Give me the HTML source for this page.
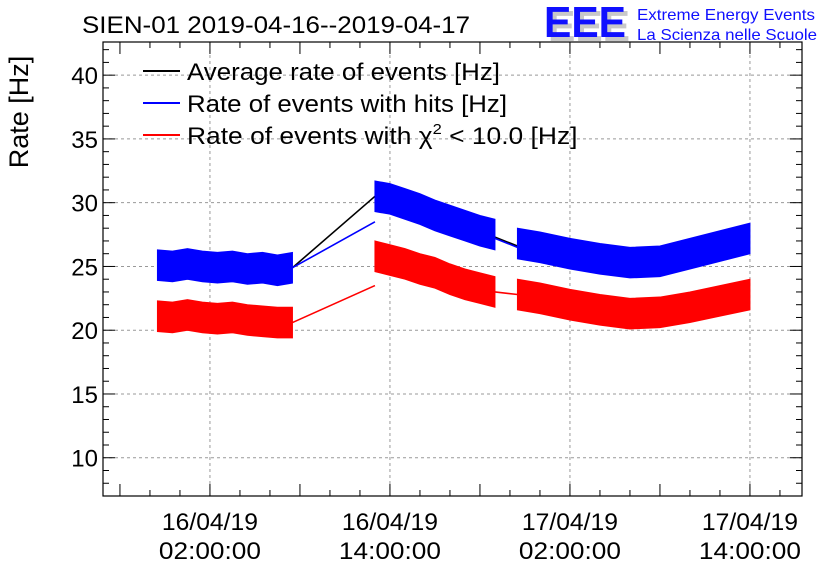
<!DOCTYPE html>
<html><head><meta charset="utf-8"><style>
body{margin:0;background:#fff}
svg{display:block;font-family:"Liberation Sans",sans-serif}
</style></head><body>
<svg id="chart" width="836" height="572" viewBox="0 0 836 572">
<text x="82" y="33" font-size="24" textLength="388" lengthAdjust="spacingAndGlyphs">SIEN-01 2019-04-16--2019-04-17</text>
<g>
<text x="548" y="41" font-size="44" font-weight="bold" fill="#c8c8c8" textLength="82" lengthAdjust="spacingAndGlyphs">EEE</text>
<text x="544" y="37" font-size="44" font-weight="bold" fill="#1010ff" textLength="82" lengthAdjust="spacingAndGlyphs">EEE</text>
<text x="637" y="20" font-size="16" fill="#1010ff" textLength="178" lengthAdjust="spacingAndGlyphs">Extreme Energy Events</text>
<text x="637" y="40" font-size="16" fill="#1010ff" textLength="180" lengthAdjust="spacingAndGlyphs">La Scienza nelle Scuole</text>
</g>
<text transform="translate(28,112) rotate(-90)" font-size="27" text-anchor="middle">Rate [Hz]</text>
<g id="grid"></g>
<g id="marks"></g>
<rect x="103" y="42" width="699" height="454" fill="none" stroke="#000" stroke-width="1.2"/>
<g id="axes"></g>
<g font-size="24">
<line x1="143" y1="71" x2="180" y2="71" stroke="#000" stroke-width="2"/>
<text x="187" y="80" textLength="313" lengthAdjust="spacingAndGlyphs">Average rate of events [Hz]</text>
<line x1="143" y1="103" x2="180" y2="103" stroke="#0000ff" stroke-width="2"/>
<text x="187" y="112" textLength="320" lengthAdjust="spacingAndGlyphs">Rate of events with hits [Hz]</text>
<line x1="143" y1="135" x2="180" y2="135" stroke="#ff0000" stroke-width="2"/>
<text x="187" y="144" transform="translate(187,0) scale(1.1,1) translate(-187,0)">Rate of events with χ<tspan dy="-10" font-size="15">2</tspan><tspan dy="10"> &lt; 10.0 [Hz]</tspan></text>
</g>
</svg>
<script>
// hours since 2019-04-16 00:00
const seg1Hours=[-1.5,-0.5,0.5,1.5,2.5,3.5,4.5,5.5,6.5,7.5];
const seg1Blue=[25.1,25.0,25.2,25.0,24.9,25.0,24.8,24.9,24.7,24.9];
const seg1Red=[21.1,21.0,21.2,21.0,20.9,21.0,20.8,20.7,20.6,20.6];
const seg2Hours=[13,14,15,16,17,18,19,20,21];
const seg2Blue=[30.5,30.3,29.9,29.5,29.0,28.6,28.2,27.8,27.5];
const seg2Red=[25.8,25.5,25.2,24.8,24.5,24.0,23.6,23.3,23.0];
const seg3Hours=[22.5,24,26,28,30,32,34,36,38];
const seg3Blue=[26.8,26.5,26.0,25.6,25.3,25.4,26.0,26.6,27.2];
const seg3Red=[22.8,22.5,22.0,21.6,21.3,21.4,21.8,22.3,22.8];
const noiseHalfWidth=1.2;
const gapBlue=[24.9,28.5];
const gapRed=[20.6,23.5];
const gapAverage=[24.9,30.5];
const yTicks=[10,15,20,25,30,35,40];
const xTickHours=[2,14,26,38];
const xTickDates=["16/04/19","16/04/19","17/04/19","17/04/19"];
const xTickTimes=["02:00:00","14:00:00","02:00:00","14:00:00"];

const X0=103,X1=802,Y0=496,Y1=42,HMIN=-5.13,HMAX=41.47,VMIN=7.0,VMAX=42.6;
const xs=h=>X0+(h-HMIN)/(HMAX-HMIN)*(X1-X0);
const ys=v=>Y0-(v-VMIN)/(VMAX-VMIN)*(Y0-Y1);
const NS="http://www.w3.org/2000/svg";
function mk(tag,attrs,parent){const e=document.createElementNS(NS,tag);for(const k in attrs)e.setAttribute(k,attrs[k]);parent.appendChild(e);return e;}
const grid=document.getElementById('grid'),marks=document.getElementById('marks'),axes=document.getElementById('axes');

yTicks.forEach(v=>{
  const g=mk('line',{x1:X0,x2:X1,y1:ys(v),y2:ys(v),stroke:'#999','stroke-dasharray':'3,3'},grid);
  
  
  const t=mk('text',{x:X0-5,y:ys(v)+9,'font-size':24,'text-anchor':'end'},axes);
  t.textContent=v;
  
  
});
for(let v=Math.ceil(VMIN);v<=VMAX;v++){
  const L=v%5===0?12:6;
  mk('line',{x1:X0,x2:X0+L,y1:ys(v),y2:ys(v),stroke:'#000'},axes);
  mk('line',{x1:X1,x2:X1-L,y1:ys(v),y2:ys(v),stroke:'#000'},axes);
}
xTickHours.forEach((h,i)=>{
  const g=mk('line',{x1:xs(h),x2:xs(h),y1:Y0,y2:Y1,stroke:'#999','stroke-dasharray':'3,3'},grid);
  
  
  const t1=mk('text',{x:xs(h)-48,y:530,'font-size':24,textLength:96,lengthAdjust:'spacingAndGlyphs'},axes);
  t1.textContent=xTickDates[i];
  
  
  const t2=mk('text',{x:xs(h)-51,y:559,'font-size':24,textLength:102,lengthAdjust:'spacingAndGlyphs'},axes);
  t2.textContent=xTickTimes[i];
  
  
});
for(let h=-4;h<=HMAX;h+=2){
  const L=(h-2)%6===0?12:6;
  mk('line',{x1:xs(h),x2:xs(h),y1:Y0,y2:Y0-L,stroke:'#000'},axes);
  mk('line',{x1:xs(h),x2:xs(h),y1:Y1,y2:Y1+L,stroke:'#000'},axes);
}

function line(pts,color,name){
  const p=mk('polyline',{points:pts.map(q=>xs(q[0])+','+ys(q[1])).join(' '),fill:'none',stroke:color,'stroke-width':1.6},marks);
  
  
}
function band(hours,vals,color,name){
  const up=hours.map((h,i)=>xs(h)+','+ys(vals[i]+noiseHalfWidth));
  const dn=hours.map((h,i)=>xs(h)+','+ys(vals[i]-noiseHalfWidth)).reverse();
  const p=mk('polygon',{points:up.concat(dn).join(' '),fill:color,stroke:color,'stroke-width':1},marks);
  
  
}
line([[seg1Hours[9],gapAverage[0]],[seg2Hours[0],gapAverage[1]]],'#000','average-gap-line');
line([[seg2Hours[8],seg2Blue[8]-0.2],[seg3Hours[0],seg3Blue[0]-0.2]],'#000','average-gap-line-2');
line([[seg1Hours[9],gapBlue[0]],[seg2Hours[0],gapBlue[1]]],'#0000ff','hits-gap-line');
line([[seg2Hours[8],seg2Blue[8]-0.3],[seg3Hours[0],seg3Blue[0]-0.3]],'#0000ff','hits-gap-line-2');
band(seg1Hours,seg1Blue,'#0000ff','hits-series-1');
band(seg2Hours,seg2Blue,'#0000ff','hits-series-2');
band(seg3Hours,seg3Blue,'#0000ff','hits-series-3');
line([[seg1Hours[9],gapRed[0]],[seg2Hours[0],gapRed[1]]],'#ff0000','chi2-gap-line');
line([[seg2Hours[8],seg2Red[8]],[seg3Hours[0],seg3Red[0]]],'#ff0000','chi2-gap-line-2');
band(seg1Hours,seg1Red,'#ff0000','chi2-series-1');
band(seg2Hours,seg2Red,'#ff0000','chi2-series-2');
band(seg3Hours,seg3Red,'#ff0000','chi2-series-3');
</script>
</body></html>
